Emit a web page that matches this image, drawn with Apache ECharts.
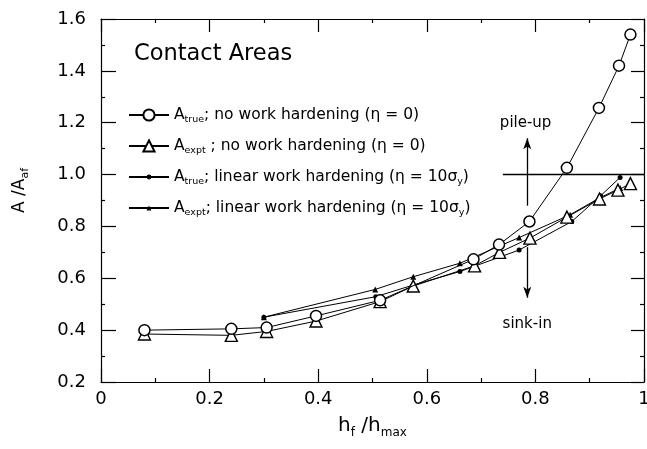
<!DOCTYPE html>
<html><head><meta charset="utf-8">
<script src="https://cdn.jsdelivr.net/npm/echarts@6/dist/echarts.min.js"></script>
<style>html,body{margin:0;padding:0;background:#fff}#c{width:647px;height:449px}</style>
</head><body><div id="c"></div>
<script>
// ---- data ----
const xTickValues = [0, 0.2, 0.4, 0.6, 0.8, 1];
const yTickValues = [0.2, 0.4, 0.6, 0.8, 1.0, 1.2, 1.4, 1.6];

// A_true, no work hardening (open circles)
const trueNoWH_x = [0.08, 0.24, 0.305, 0.396, 0.514, 0.686, 0.733, 0.789, 0.858, 0.917, 0.954, 0.975];
const trueNoWH_y = [0.400, 0.405, 0.410, 0.455, 0.515, 0.673, 0.730, 0.819, 1.026, 1.257, 1.420, 1.540];
// A_expt, no work hardening (open triangles)
const exptNoWH_x = [0.08, 0.24, 0.305, 0.396, 0.514, 0.575, 0.688, 0.734, 0.790, 0.858, 0.918, 0.952, 0.975];
const exptNoWH_y = [0.385, 0.380, 0.395, 0.435, 0.510, 0.570, 0.648, 0.700, 0.755, 0.836, 0.906, 0.940, 0.965];
// A_true, linear work hardening (small dots)
const trueLinWH_x = [0.300, 0.506, 0.575, 0.661, 0.770, 0.867, 0.920, 0.956];
const trueLinWH_y = [0.450, 0.529, 0.574, 0.626, 0.709, 0.819, 0.918, 0.989];
// A_expt, linear work hardening (small filled triangles)
const exptLinWH_x = [0.300, 0.505, 0.575, 0.661, 0.770, 0.864, 0.918, 0.956];
const exptLinWH_y = [0.450, 0.557, 0.606, 0.658, 0.757, 0.845, 0.910, 0.948];

const seriesNames = ['trueNoWH', 'exptNoWH', 'trueLinWH', 'exptLinWH'];
const legendTexts = [
  '{a|A}{s|true}{a|; no work hardening (η = 0)}',
  '{a|A}{s|expt}{a| ; no work hardening (η = 0)}',
  '{a|A}{s|true}{a|; linear work hardening (η = 10σ}{s|y}{a|)}',
  '{a|A}{s|expt}{a|; linear work hardening (η = 10σ}{s|y}{a|)}'
];
const chartTitle = 'Contact Areas';
const xName = '{m|h}{s|f}{m| /h}{s|max}';
const yName = '{m|A /A}{s|af}';
// annotation geometry in data units
const refLevel = 1.0, refStartX = 0.74, arrowX = 0.785;
const upArrow = [0.88, 1.14], downArrow = [0.72, 0.525];
const pileUpPos = [0.782, 1.2], sinkInPos = [0.785, 0.425];

const FONT = 'DejaVu Sans';
const pairs = (xs, ys) => xs.map((x, i) => [x, ys[i]]);
const black = '#000';

const legendRich = {
  a: {fontFamily: FONT, fontSize: 15.5, color: black, lineHeight: 20},
  s: {fontFamily: FONT, fontSize: 9.5, color: black, lineHeight: 2, verticalAlign: 'bottom'}
};

const axisCommon = {
  type: 'value',
  axisLine: {show: true, onZero: false, lineStyle: {color: black, width: 1.2}},
  axisTick: {show: true, inside: true, length: 13, lineStyle: {color: black, width: 1.2}},
  minorTick: {show: true, splitNumber: 2, length: 4, lineStyle: {color: black, width: 1.2}},
  splitLine: {show: false},
  minorSplitLine: {show: false}
};

const chart = echarts.init(document.getElementById('c'), null, {renderer: 'canvas'});
const option = {
  animation: false,
  backgroundColor: '#fff',
  title: {
    text: chartTitle, left: 134, top: 42, padding: 0,
    textStyle: {fontFamily: FONT, fontSize: 22.5, fontWeight: 'normal', color: black, lineHeight: 25}
  },
  grid: {left: 101, right: 3, top: 19, bottom: 67, containLabel: false, outerBoundsMode: 'none'},
  legend: seriesNames.map((n, i) => ({
    data: [n], left: 128, top: [107, 138, 169, 200][i], padding: 0,
    itemWidth: 40, itemHeight: i < 2 ? 14 : 6, selectedMode: false,
    formatter: () => legendTexts[i],
    textStyle: {rich: legendRich, color: black, fontFamily: FONT, fontSize: 15.5}
  })),
  xAxis: [
    Object.assign({}, axisCommon, {
      min: xTickValues[0], max: xTickValues[xTickValues.length - 1], interval: 0.2, position: 'bottom',
      axisLabel: {color: black, fontFamily: FONT, fontSize: 18, margin: 8},
      name: xName, nameLocation: 'middle', nameGap: 31,
      nameTextStyle: {rich: {
        m: {fontFamily: FONT, fontSize: 20, color: black, lineHeight: 26},
        s: {fontFamily: FONT, fontSize: 12, color: black, lineHeight: 3, verticalAlign: 'bottom'}
      }}
    }),
    Object.assign({}, axisCommon, {
      min: 0, max: 1, interval: 0.2, position: 'top', axisLabel: {show: false}
    })
  ],
  yAxis: [
    Object.assign({}, axisCommon, {
      min: yTickValues[0], max: yTickValues[yTickValues.length - 1], interval: 0.2, position: 'left',
      axisTick: Object.assign({}, axisCommon.axisTick, {length: 15}),
      axisLabel: {color: black, fontFamily: FONT, fontSize: 18, margin: 15, formatter: v => v.toFixed(1)},
      name: yName, nameLocation: 'middle', nameGap: 70,
      nameTextStyle: {padding: [0, 0, 0, 20], rich: {
        m: {fontFamily: FONT, fontSize: 17, color: black, lineHeight: 22},
        s: {fontFamily: FONT, fontSize: 11, color: black, lineHeight: 2, verticalAlign: 'bottom'}
      }}
    }),
    Object.assign({}, axisCommon, {
      min: 0.2, max: 1.6, interval: 0.2, position: 'right', axisLabel: {show: false}
    })
  ],
  series: [
    {
      name: 'annot', type: 'line', data: [], z: 1, silent: true,
      markLine: {
        silent: true, animation: false, symbol: ['none', 'none'], symbolSize: [6, 11],
        label: {show: false}, emphasis: {disabled: true},
        lineStyle: {color: black, width: 1.3, type: 'solid'},
        data: [
          [{coord: [refStartX, refLevel]}, {coord: [1, refLevel]}],
          [{coord: [arrowX, upArrow[0]], symbol: 'none'}, {coord: [arrowX, upArrow[1]], symbol: 'arrow'}],
          [{coord: [arrowX, downArrow[0]], symbol: 'none'}, {coord: [arrowX, downArrow[1]], symbol: 'arrow'}]
        ]
      },
      markPoint: {
        silent: true, animation: false, symbol: 'rect', symbolSize: 1,
        itemStyle: {color: 'rgba(0,0,0,0)'},
        label: {show: true, position: 'inside', formatter: '{b}', color: black, fontFamily: FONT, fontSize: 15},
        data: [
          {name: 'pile-up', coord: pileUpPos},
          {name: 'sink-in', coord: sinkInPos}
        ]
      }
    },
    {
      name: 'trueLinWH', type: 'line', z: 3, data: pairs(trueLinWH_x, trueLinWH_y),
      symbol: 'circle', symbolSize: 5, itemStyle: {color: black},
      lineStyle: {color: black, width: 1}, emphasis: {disabled: true}
    },
    {
      name: 'exptLinWH', type: 'line', z: 3, data: pairs(exptLinWH_x, exptLinWH_y),
      symbol: 'triangle', symbolSize: 6, itemStyle: {color: black},
      lineStyle: {color: black, width: 1}, emphasis: {disabled: true}
    },
    {
      name: 'exptNoWH', type: 'line', z: 4, data: pairs(exptNoWH_x, exptNoWH_y),
      symbol: 'triangle', symbolSize: 12, showAllSymbol: true,
      itemStyle: {color: '#fff', borderColor: black, borderWidth: 1.4},
      lineStyle: {color: black, width: 1}, emphasis: {disabled: true}
    },
    {
      name: 'trueNoWH', type: 'line', z: 5, data: pairs(trueNoWH_x, trueNoWH_y),
      symbol: 'circle', symbolSize: 11, showAllSymbol: true,
      itemStyle: {color: '#fff', borderColor: black, borderWidth: 1.5},
      lineStyle: {color: black, width: 1}, emphasis: {disabled: true}
    }
  ]
};
chart.setOption(option);
</script>
</body></html>
